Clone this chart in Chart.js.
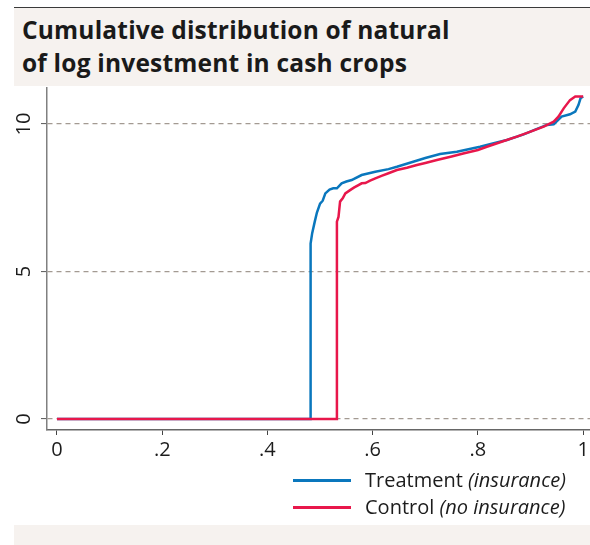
<!DOCTYPE html>
<html>
<head>
<meta charset="utf-8">
<script src="https://cdn.jsdelivr.net/npm/chart.js@4.4.1/dist/chart.umd.min.js"></script>
<style>
  html, body { margin: 0; padding: 0; background: #fff; }
  body { width: 590px; height: 545px; position: relative; overflow: hidden; font-family: "Open Sans", sans-serif; color: #1c1c1c; }
  .rule { position: absolute; left: 14px; right: 0; top: 6.5px; height: 1.5px; background: #3a3a3a; }
  .band-top { position: absolute; left: 14px; right: 0; top: 8px; height: 78px; background: #f6f2ef; }
  .title { position: absolute; left: 22px; top: 12.5px; font-weight: 700; font-size: 24.5px; line-height: 33.4px; color: #1a1a1a; white-space: nowrap; letter-spacing: 0.2px; }
  .band-bottom { position: absolute; left: 14px; right: 0; top: 525px; height: 20px; background: #f6f2ef; }
  #wrap { position: absolute; left: 0; top: 87px; width: 590px; height: 380px; }
  .legend-row { position: absolute; left: 293px; height: 20px; }
  .swatch { position: absolute; left: 0; top: 8.5px; width: 58px; height: 3px; }
  .lbl { position: absolute; left: 72px; top: 0; font-size: 20px; line-height: 19px; white-space: nowrap; color: #1c1c1c; }
</style>
</head>
<body>
<div class="rule"></div>
<div class="band-top"></div>
<div class="title">Cumulative distribution of natural<br>of log investment in cash crops</div>
<div id="wrap"><canvas id="cdfChart" width="590" height="380"></canvas></div>
<div class="legend-row" style="top:470px"><span class="swatch" id="swT"></span><span class="lbl">Treatment <i>(insurance)</i></span></div>
<div class="legend-row" style="top:497px"><span class="swatch" id="swC"></span><span class="lbl">Control <i>(no insurance)</i></span></div>
<div class="band-bottom"></div>
<script>
// Cumulative share (x) and log investment (y)
const treatmentX = [0, 0.482, 0.482, 0.485, 0.490, 0.494, 0.500, 0.505, 0.510, 0.518, 0.525, 0.532, 0.541, 0.550, 0.560, 0.579, 0.605, 0.630, 0.646, 0.677, 0.700, 0.728, 0.760, 0.804, 0.830, 0.855, 0.887, 0.910, 0.931, 0.944, 0.959, 0.975, 0.985, 0.991, 0.995, 1.0];
const treatmentY = [0, 0, 5.95, 6.30, 6.70, 7.00, 7.30, 7.40, 7.65, 7.78, 7.82, 7.82, 7.99, 8.05, 8.10, 8.27, 8.38, 8.47, 8.55, 8.72, 8.85, 8.98, 9.06, 9.23, 9.35, 9.46, 9.65, 9.82, 9.97, 9.99, 10.25, 10.33, 10.42, 10.64, 10.87, 10.93];

const controlX = [0, 0.532, 0.532, 0.535, 0.538, 0.543, 0.548, 0.557, 0.565, 0.573, 0.579, 0.586, 0.595, 0.605, 0.618, 0.630, 0.646, 0.665, 0.684, 0.700, 0.722, 0.750, 0.772, 0.800, 0.817, 0.845, 0.874, 0.900, 0.925, 0.944, 0.953, 0.963, 0.975, 0.985, 1.0];
const controlY = [0, 0, 6.69, 6.85, 7.37, 7.48, 7.65, 7.76, 7.85, 7.93, 7.99, 8.00, 8.08, 8.16, 8.25, 8.33, 8.44, 8.52, 8.61, 8.68, 8.78, 8.90, 9.00, 9.12, 9.23, 9.40, 9.57, 9.74, 9.91, 10.08, 10.25, 10.53, 10.81, 10.93, 10.93];

const xTicks = [0, 0.2, 0.4, 0.6, 0.8, 1];
const xTickLabels = ['0', '.2', '.4', '.6', '.8', '1'];
const yTicks = [0, 5, 10];

const blue = '#0a77bd';
const red = '#e8174b';

document.getElementById('swT').style.background = blue;
document.getElementById('swC').style.background = red;

const toPoints = (xs, ys) => xs.map((x, i) => ({ x: x, y: ys[i] }));

// fix the axis boxes so the plot area lands where it should
function fixY(scale) {
    scale.width = 47;
    scale.paddingTop = 0;
    scale.paddingBottom = 0;
}
function fixX(scale) {
    scale.height = 37;
    scale.paddingLeft = 0;
    scale.paddingRight = 0;
}

const tickFont = { family: '"Open Sans", sans-serif', size: 20 };

new Chart(document.getElementById('cdfChart').getContext('2d'), {
    type: 'scatter',
    data: {
        datasets: [
            {
                label: 'Control (no insurance)',
                data: toPoints(controlX, controlY),
                showLine: true,
                borderColor: red,
                borderWidth: 2.5,
                pointRadius: 0,
                tension: 0
            },
            {
                label: 'Treatment (insurance)',
                data: toPoints(treatmentX, treatmentY),
                showLine: true,
                borderColor: blue,
                borderWidth: 2.5,
                pointRadius: 0,
                tension: 0
            }
        ]
    },
    options: {
        responsive: false,
        animation: false,
        layout: { padding: { top: 1, right: 0, bottom: 0, left: 0 } },
        plugins: { legend: { display: false }, tooltip: { enabled: false } },
        scales: {
            x: {
                type: 'linear',
                min: -0.019,
                max: 1.013,
                afterBuildTicks: s => { s.ticks = xTicks.map(v => ({ value: v })); },
                afterFit: fixX,
                ticks: {
                    autoSkip: false,
                    maxRotation: 0,
                    padding: 3,
                    color: '#1c1c1c',
                    font: tickFont,
                    callback: (v, i) => xTickLabels[i]
                },
                grid: { drawOnChartArea: false, drawTicks: true, tickLength: 5, tickColor: '#444', tickWidth: 1 },
                border: { display: true, color: '#666', width: 1.5 }
            },
            y: {
                type: 'linear',
                min: -0.37,
                max: 11.22,
                afterBuildTicks: s => { s.ticks = yTicks.map(v => ({ value: v })); },
                afterFit: fixY,
                ticks: {
                    autoSkip: false,
                    minRotation: 90,
                    maxRotation: 90,
                    crossAlign: 'center',
                    padding: 5,
                    color: '#1c1c1c',
                    font: tickFont
                },
                grid: {
                    color: '#a39a92',
                    lineWidth: 1.2,
                    drawTicks: true,
                    tickLength: 6,
                    tickColor: '#555',
                    tickWidth: 1,
                    tickBorderDash: []
                },
                border: { display: true, color: '#808080', width: 1.5, dash: [5, 4] }
            }
        }
    }
});
</script>
</body>
</html>
